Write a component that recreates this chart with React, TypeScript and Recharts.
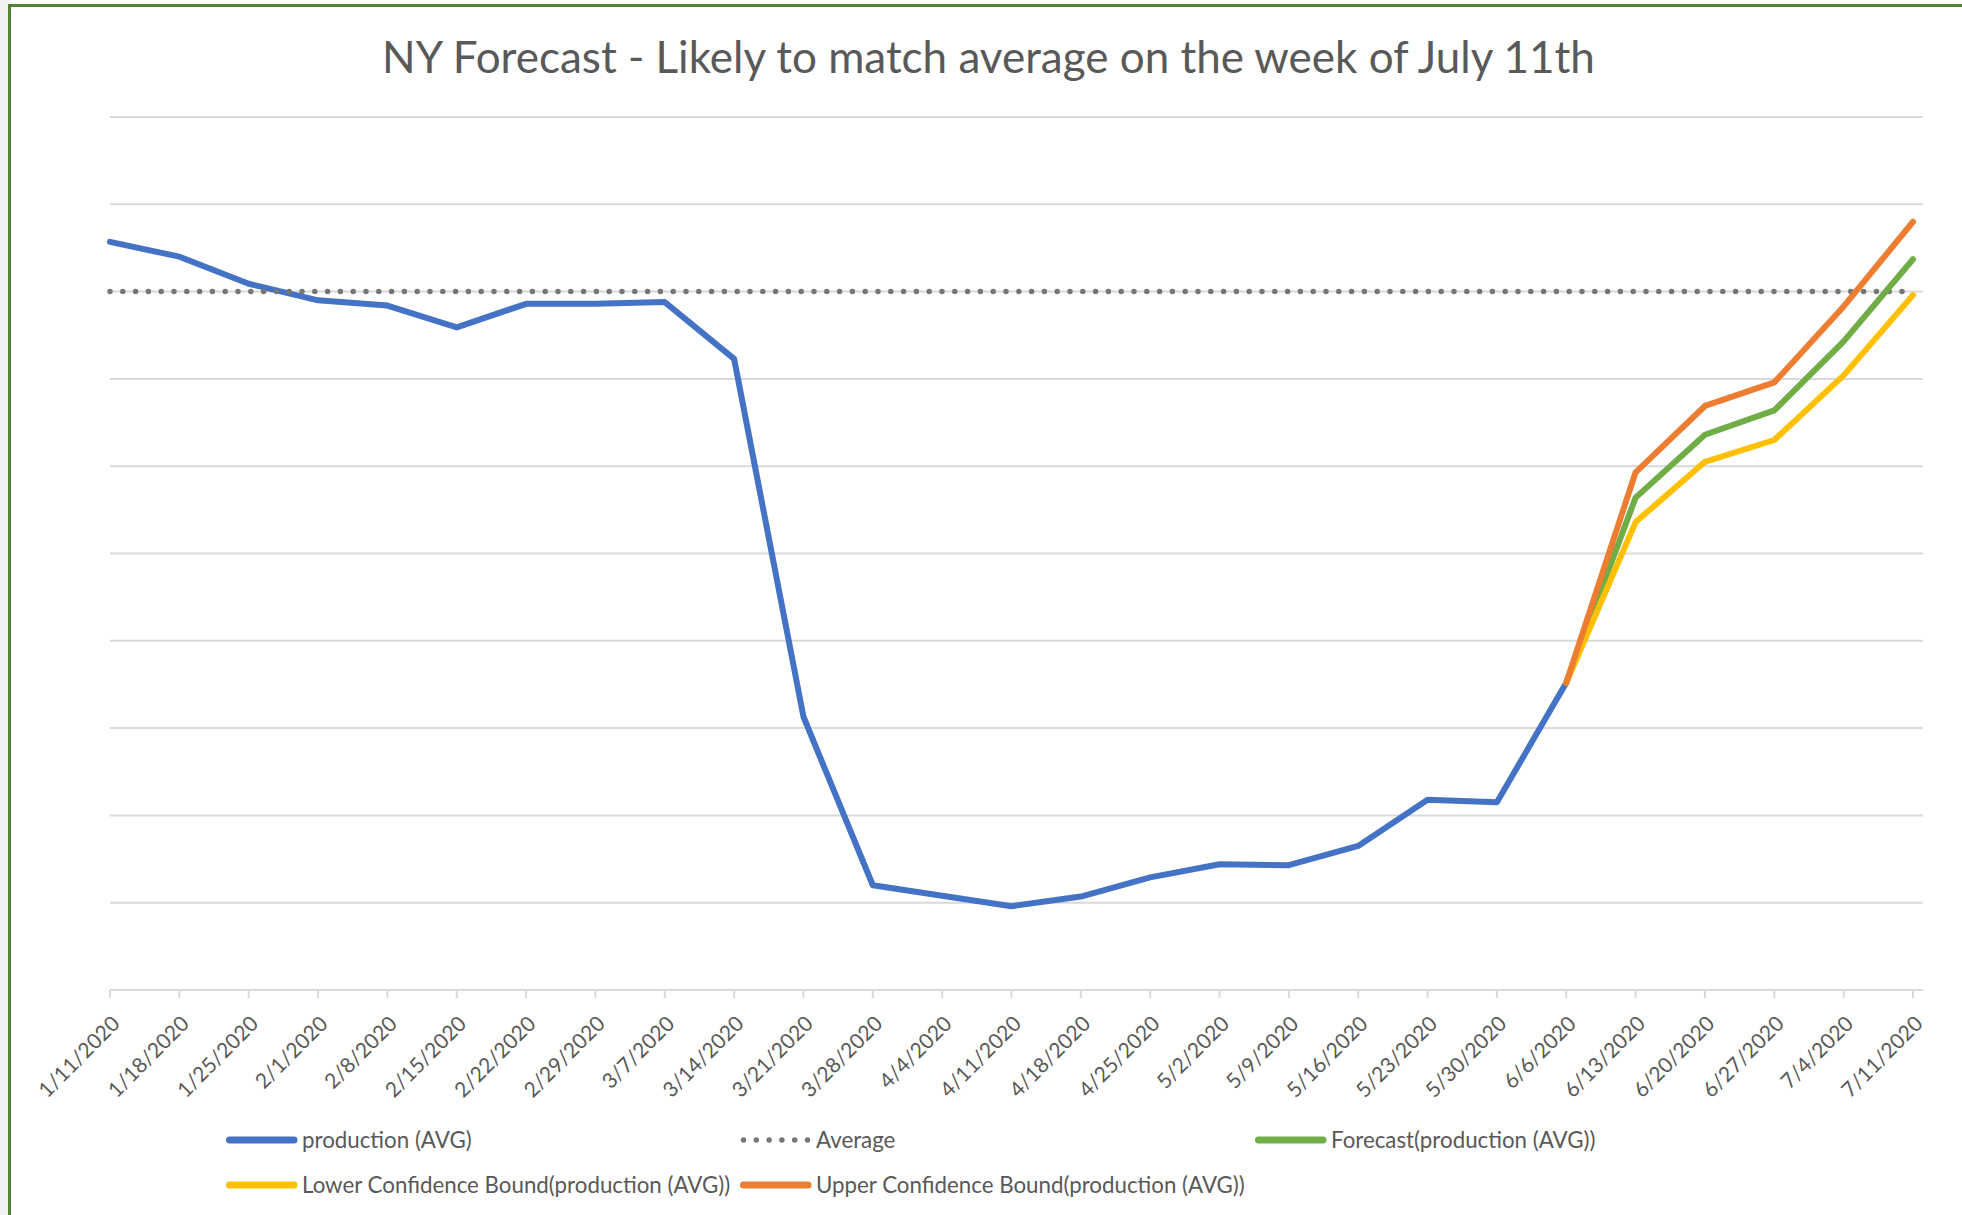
import { LineChart, Line, XAxis, YAxis, CartesianGrid } from 'recharts';

// weekly production index, NY
const WEEKS = [
  '1/11/2020', '1/18/2020', '1/25/2020', '2/1/2020', '2/8/2020', '2/15/2020',
  '2/22/2020', '2/29/2020', '3/7/2020', '3/14/2020', '3/21/2020', '3/28/2020',
  '4/4/2020', '4/11/2020', '4/18/2020', '4/25/2020', '5/2/2020', '5/9/2020',
  '5/16/2020', '5/23/2020', '5/30/2020', '6/6/2020', '6/13/2020', '6/20/2020',
  '6/27/2020', '7/4/2020', '7/11/2020',
];

const PRODUCTION = [
  85.7, 84.0, 80.9, 79.0, 78.4, 75.9, 78.6, 78.6, 78.8, 72.3, 31.3, 12.0,
  10.8, 9.6, 10.7, 12.9, 14.4, 14.3, 16.5, 21.8, 21.5, 35.2,
];

// forecast series start at the last actual week (6/6)
const FORECAST = [35.2, 56.4, 63.6, 66.4, 74.3, 83.7];
const LOWER_BOUND = [35.2, 53.6, 60.5, 63.0, 70.4, 79.6];
const UPPER_BOUND = [35.2, 59.3, 66.9, 69.6, 78.3, 88.0];

const AVERAGE = 80;
const FORECAST_START = WEEKS.indexOf('6/6/2020');
const Y_TICKS = [0, 10, 20, 30, 40, 50, 60, 70, 80, 90, 100];

const BLUE = '#4472C4';
const ORANGE = '#ED7D31';
const GREEN = '#70AD47';
const YELLOW = '#FFC000';
const AVG_GRAY = '#767676';
const GRID = '#D9D9D9';
const TEXT = '#595959';
const FONT = 'Lato, "Open Sans", sans-serif';
const LINE_W = 6;
const DOTS = '0 12.8';

const rows = WEEKS.map((week, i) => {
  const f = i - FORECAST_START;
  return {
    week,
    production: i < PRODUCTION.length ? PRODUCTION[i] : null,
    average: AVERAGE,
    forecast: f >= 0 ? FORECAST[f] : null,
    lower: f >= 0 ? LOWER_BOUND[f] : null,
    upper: f >= 0 ? UPPER_BOUND[f] : null,
  };
});

const legendItems = [
  { label: 'production (AVG)', color: BLUE, dotted: false, left: 226, top: 1140 },
  { label: 'Average', color: AVG_GRAY, dotted: true, left: 740, top: 1140 },
  { label: 'Forecast(production (AVG))', color: GREEN, dotted: false, left: 1255, top: 1140 },
  { label: 'Lower Confidence Bound(production (AVG))', color: YELLOW, dotted: false, left: 226, top: 1185 },
  { label: 'Upper Confidence Bound(production (AVG))', color: ORANGE, dotted: false, left: 740, top: 1185 },
];

function DateTick({ x, y, payload }: any) {
  const ax = x + 11;
  const ay = y + 25;
  return (
    <text
      x={ax}
      y={ay}
      transform={`rotate(-45, ${ax}, ${ay})`}
      textAnchor="end"
      fill={TEXT}
      fontSize={21}
      fontFamily={FONT}
    >
      {payload.value}
    </text>
  );
}

const lineProps = {
  strokeWidth: LINE_W,
  dot: false,
  activeDot: false,
  strokeLinejoin: 'round' as const,
  strokeLinecap: 'round' as const,
  isAnimationActive: false,
};

export default function App() {
  return (
    <div
      style={{
        position: 'absolute',
        left: 0,
        top: 0,
        width: 1962,
        height: 1215,
        background: '#fff',
        overflow: 'hidden',
        fontFamily: FONT,
      }}
    >
      {/* strip left of the chart frame */}
      <div style={{ position: 'absolute', left: 0, top: 0, width: 8, height: 1215, background: '#F2F2F2' }} />
      {/* chart frame, only left and top edges show */}
      <div
        style={{
          position: 'absolute',
          left: 8,
          top: 4,
          width: 2000,
          height: 1300,
          borderLeft: '3px solid #548235',
          borderTop: '3px solid #548235',
        }}
      />

      <div
        style={{
          position: 'absolute',
          left: 0,
          top: 30,
          width: 1977,
          textAlign: 'center',
          fontSize: 44,
          lineHeight: 1.2,
          color: TEXT,
          whiteSpace: 'nowrap',
        }}
      >
        NY Forecast - Likely to match average on the week of July 11th
      </div>

      <div style={{ position: 'absolute', left: 0, top: 0 }}>
        <LineChart
          width={1962}
          height={1215}
          data={rows}
          margin={{ top: 117, right: 39, bottom: 125, left: 110 }}
        >
          <CartesianGrid horizontal vertical={false} stroke={GRID} strokeWidth={2} />
          <YAxis hide domain={[0, 100]} ticks={Y_TICKS} />
          <XAxis
            dataKey="week"
            interval={0}
            height={100}
            padding={{ left: 0, right: 10 }}
            axisLine={{ stroke: GRID, strokeWidth: 2 }}
            tickLine={{ stroke: GRID, strokeWidth: 2 }}
            tickSize={8}
            tick={<DateTick />}
          />
          <Line dataKey="production" stroke={BLUE} {...lineProps} />
          <Line
            dataKey="average"
            stroke={AVG_GRAY}
            strokeWidth={5.5}
            strokeDasharray={DOTS}
            strokeLinecap="round"
            dot={false}
            activeDot={false}
            isAnimationActive={false}
          />
          <Line dataKey="forecast" stroke={GREEN} {...lineProps} />
          <Line dataKey="lower" stroke={YELLOW} {...lineProps} />
          <Line dataKey="upper" stroke={ORANGE} {...lineProps} />
        </LineChart>
      </div>

      {/* legend */}
      {legendItems.map((item) => (
        <div
          key={item.label}
          style={{
            position: 'absolute',
            left: item.left,
            top: item.top - 13,
            height: 26,
            display: 'flex',
            alignItems: 'center',
            whiteSpace: 'nowrap',
          }}
        >
          <svg width={76} height={26}>
            <line
              x1={3.5}
              y1={13}
              x2={item.dotted ? 70 : 68}
              y2={13}
              stroke={item.color}
              strokeWidth={item.dotted ? 5.5 : 7}
              strokeLinecap="round"
              strokeDasharray={item.dotted ? DOTS : undefined}
            />
          </svg>
          <span style={{ fontSize: 22.3, color: TEXT, lineHeight: '26px' }}>{item.label}</span>
        </div>
      ))}
    </div>
  );
}
